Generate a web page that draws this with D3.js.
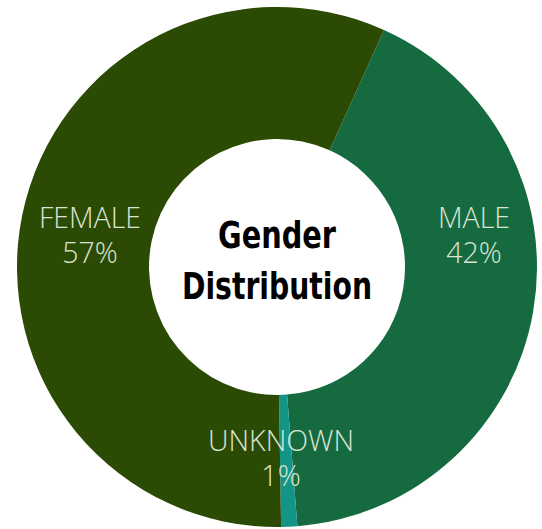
<!DOCTYPE html>
<html>
<head>
<meta charset="utf-8">
<script src="https://cdn.jsdelivr.net/npm/d3@7"></script>
<style>
  html, body { margin: 0; padding: 0; background: #fff; }
  svg { display: block; }
</style>
</head>
<body>
<svg id="chart" width="542" height="529"></svg>
<script>
// data
const categories = ['MALE', 'UNKNOWN', 'FEMALE'];
const values = [42, 1, 57];
const pctLabels = ['42%', '1%', '57%'];
const colors = ['#156a3f', '#129587', '#2b4a03'];
const titleLines = ['Gender', 'Distribution'];

const width = 542, height = 529;
const cx = 277, cy = 267;
const outerR = 260, innerR = 128;
const rot = 24.3 * Math.PI / 180; // male slice starts a bit right of 12 o'clock

const svg = d3.select('#chart');
const g = svg.append('g').attr('transform', `translate(${cx},${cy})`);

const pie = d3.pie().sort(null).value(d => d).startAngle(rot).endAngle(rot + 2 * Math.PI);
const arcs = pie(values);
const arc = d3.arc().innerRadius(innerR).outerRadius(outerR);

g.selectAll('path.slice')
  .data(arcs)
  .enter()
  .append('path')
  .attr('class', 'slice')
  .attr('d', arc)
  .attr('fill', (d, i) => colors[i]);

// label positions (where they sit inside the ring in the picture)
const labelPos = [
  { x: 474 - cx, y: 228 - cy },
  { x: 281 - cx, y: 451 - cy },
  { x: 90 - cx, y: 228 - cy }
];

const labels = g.selectAll('g.lbl')
  .data(arcs)
  .enter()
  .append('g')
  .attr('class', 'lbl')
  .attr('transform', (d, i) => `translate(${labelPos[i].x},${labelPos[i].y})`)
  .attr('text-anchor', 'middle')
  .style('font-family', '"Open Sans", sans-serif')
  .style('font-weight', '300')
  .style('font-size', '28.5px')
  .attr('fill', '#dbe4d3');

labels.append('text').text((d, i) => categories[i]);
labels.append('text').attr('y', 35).text((d, i) => pctLabels[i]);

// centre title
const title = g.append('g')
  .attr('text-anchor', 'middle')
  .style('font-family', '"Liberation Sans Narrow", "DejaVu Sans Condensed", sans-serif')
  .style('font-weight', 'bold')
  .style('font-size', '38px')
  .attr('fill', '#000');

const titleWidths = [118, 190];
title.selectAll('text')
  .data(titleLines)
  .enter()
  .append('text')
  .attr('x', 0)
  .attr('y', (d, i) => (i === 0 ? 248 : 299) - cy)
  .attr('textLength', (d, i) => titleWidths[i])
  .attr('lengthAdjust', 'spacingAndGlyphs')
  .text(d => d);
</script>
</body>
</html>
